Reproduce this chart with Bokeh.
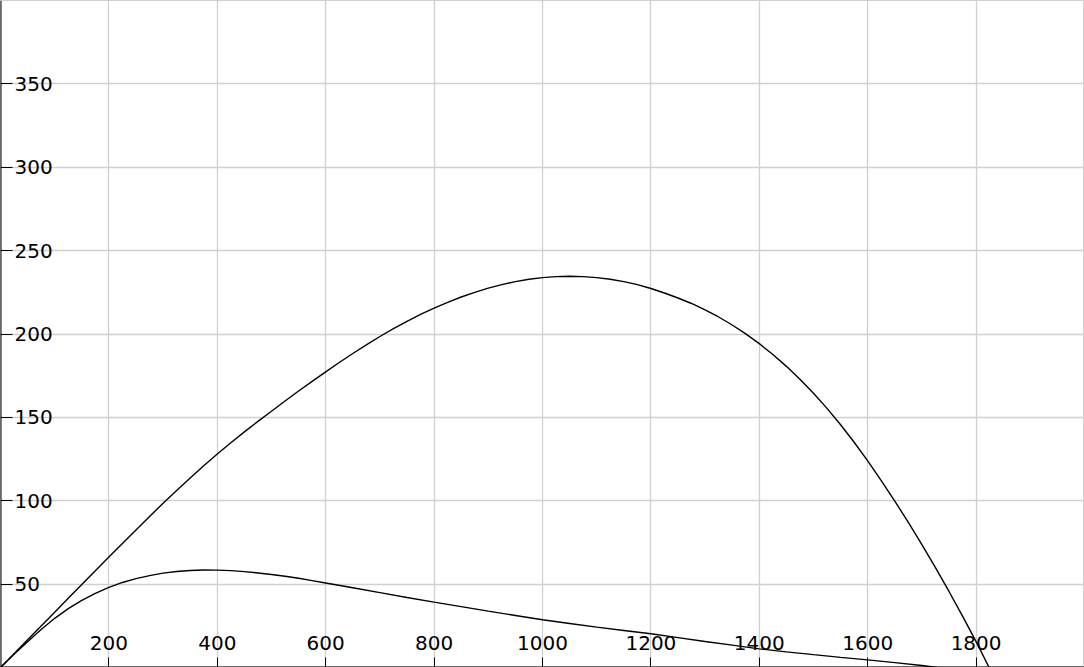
from bokeh.plotting import figure
from bokeh.models import LinearAxis, FixedTicker, Grid, ColumnDataSource
from bokeh.embed import file_html
from bokeh.resources import INLINE

# --- data ---
upper_x = [0, 25, 50, 75, 100, 125, 150, 175, 200, 225, 250, 275, 300, 325, 350, 375,
           400, 425, 450, 475, 500, 525, 550, 575, 600, 625, 650, 675, 700, 725, 750,
           775, 800, 825, 850, 875, 900, 925, 950, 975, 1000, 1025, 1050, 1075, 1100,
           1125, 1150, 1175, 1200, 1225, 1250, 1275, 1300, 1325, 1350, 1375, 1400,
           1425, 1450, 1475, 1500, 1525, 1550, 1575, 1600, 1625, 1650, 1675, 1700,
           1725, 1750, 1775, 1800, 1824]
upper_y = [0, 8.3, 16.6, 24.9, 33.2, 41.5, 49.8, 58.0, 66.2, 74.4, 82.5, 90.6, 98.5, 106.2, 113.7, 121.0,
           128.0, 134.8, 141.3, 147.6, 153.7, 159.8, 165.8, 171.6, 177.3, 182.9, 188.3, 193.5, 198.5, 203.2, 207.6,
           211.7, 215.5, 219.0, 222.2, 225.0, 227.5, 229.6, 231.4, 232.8, 233.8, 234.4, 234.6, 234.4, 233.8,
           232.8, 231.4, 229.6, 227.3, 224.6, 221.6, 218.3, 214.5, 210.2, 205.4, 200.1, 194.2,
           187.7, 180.6, 172.9, 164.5, 155.4, 145.6, 135.1, 123.9, 112.1, 99.8, 87.0, 73.7,
           59.9, 45.6, 30.8, 15.5, 0]

lower_x = [0, 25, 50, 75, 100, 125, 150, 175, 200, 225, 250, 275, 300, 325, 350, 375,
           400, 425, 450, 475, 500, 525, 550, 575, 600, 650, 700, 750, 800, 850, 900, 950, 1000,
           1050, 1100, 1150, 1200, 1250, 1300, 1350, 1400, 1450, 1500, 1550, 1600,
           1650, 1700, 1728]
lower_y = [0, 8.0, 15.5, 22.8, 29.5, 35.3, 40.3, 44.5, 48.0, 51.0, 53.3, 55.1, 56.6, 57.6, 58.2, 58.5,
           58.4, 58.1, 57.5, 56.7, 55.8, 54.7, 53.5, 52.1, 50.7, 47.8, 44.9, 42.0, 39.2, 36.5, 33.8, 31.2, 28.6,
           26.4, 24.2, 22.2, 20.2, 17.9, 15.6, 13.4, 11.2, 9.4, 7.7, 6.1, 4.6,
           2.9, 1.2, 0]

x_ticks = [200, 400, 600, 800, 1000, 1200, 1400, 1600, 1800]
y_ticks = [50, 100, 150, 200, 250, 300, 350]
x_grid = [200, 400, 600, 800, 1000, 1200, 1400, 1600, 1800, 2000]
y_grid = [50, 100, 150, 200, 250, 300, 350, 400]

p = figure(width=1084, height=667, x_range=(0, 2000), y_range=(0, 400),
           min_border=0, toolbar_location=None, output_backend="svg",
           x_axis_location=None, y_axis_location=None)
# drop default grids
p.center = [r for r in p.center if not isinstance(r, Grid)]
p.outline_line_color = "#d0d0d0"
p.background_fill_color = "white"
p.border_fill_color = "white"

grid_color = "#d0d0d0"
for dim, ticks in ((0, x_grid), (1, y_grid)):
    g = Grid(dimension=dim, ticker=FixedTicker(ticks=ticks),
             grid_line_color=grid_color, grid_line_width=1.3)
    p.add_layout(g, "center")

font = "DejaVu Sans"
fsize = "20px"
# y axis inside the frame at x=0
yax = LinearAxis(ticker=FixedTicker(ticks=y_ticks), fixed_location=0)
yax.major_tick_in = 0
yax.major_tick_out = 12
yax.minor_tick_out = 0
yax.minor_tick_in = 0
yax.major_label_standoff = 2
yax.major_label_text_font = font
yax.major_label_text_font_size = fsize
yax.major_label_text_color = "black"
yax.axis_line_color = "black"
yax.axis_line_width = 2
yax.major_tick_line_color = "black"
p.add_layout(yax, "right")

# x axis inside the frame at y=0
xax = LinearAxis(ticker=FixedTicker(ticks=x_ticks), fixed_location=0)
xax.major_tick_in = 0
xax.major_tick_out = 10
xax.minor_tick_out = 0
xax.minor_tick_in = 0
xax.major_label_standoff = 8
xax.major_label_text_font = font
xax.major_label_text_font_size = fsize
xax.major_label_text_color = "black"
xax.axis_line_color = "black"
xax.axis_line_width = 2
xax.major_tick_line_color = "black"
p.add_layout(xax, "above")

up = ColumnDataSource(dict(x=upper_x, y=upper_y))
lo = ColumnDataSource(dict(x=lower_x, y=lower_y))
p.line("x", "y", source=up, line_color="black", line_width=1.4)
p.line("x", "y", source=lo, line_color="black", line_width=1.4)

open("out.html", "w").write(file_html(p, INLINE))
